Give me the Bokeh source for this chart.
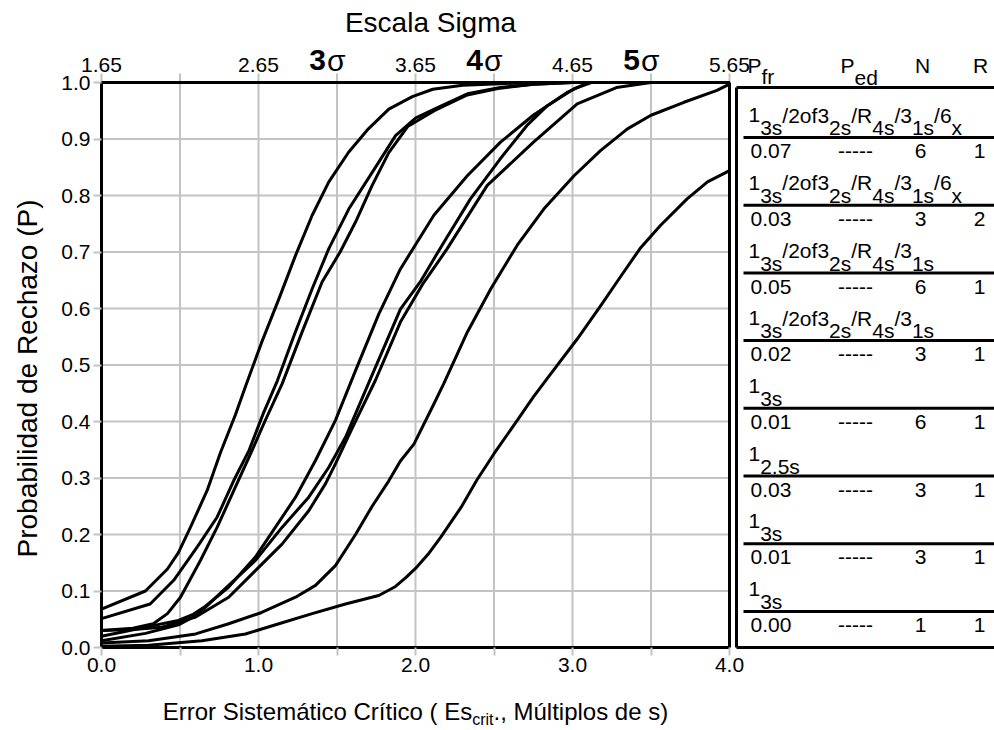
import math
from bokeh.plotting import figure
from bokeh.models import Range1d, FixedTicker, PrintfTickFormatter, LinearAxis
from bokeh.embed import file_html
from bokeh.resources import INLINE
from bokeh.core.properties import value

FONT = "Liberation Sans"

# ---------------- data ----------------
X_MAJOR = [0.0, 1.0, 2.0, 3.0, 4.0]
X_MINOR = [0.5, 1.5, 2.5, 3.5]
Y_TICKS = [0.0, 0.1, 0.2, 0.3, 0.4, 0.5, 0.6, 0.7, 0.8, 0.9, 1.0]
SIGMA_LABELS = ["1.65", "2.65", "3.65", "4.65", "5.65"]
SIGMA_MARKS = ["3", "4", "5"]
SIGMA_MARK_POS = [1.5, 2.5, 3.5]

A_X = [0, 0.28, 0.42, 0.49, 0.567, 0.673, 0.758, 0.853, 0.917, 1.02, 1.13, 1.236, 1.342, 1.448, 1.575, 1.70, 1.83, 1.98, 2.11, 2.3, 2.54, 2.8, 4.0]
A_Y = [0.068, 0.10, 0.139, 0.168, 0.213, 0.278, 0.345, 0.412, 0.462, 0.54, 0.617, 0.694, 0.765, 0.824, 0.877, 0.918, 0.953, 0.975, 0.988, 0.995, 0.998, 1.0, 1.0]
B_X = [0, 0.31, 0.46, 0.61, 0.737, 0.843, 0.94, 1.03, 1.12, 1.23, 1.342, 1.448, 1.575, 1.766, 1.873, 2.0, 2.12, 2.33, 2.54, 2.75, 3.0, 4.0]
B_Y = [0.051, 0.077, 0.119, 0.178, 0.231, 0.296, 0.349, 0.414, 0.472, 0.555, 0.635, 0.706, 0.776, 0.859, 0.906, 0.937, 0.953, 0.98, 0.991, 0.997, 1.0, 1.0]
C_X = [0, 0.2, 0.33, 0.42, 0.503, 0.63, 0.737, 0.843, 0.95, 1.04, 1.151, 1.28, 1.405, 1.52, 1.618, 1.724, 1.83, 1.95, 2.12, 2.33, 2.54, 2.75, 3.0, 4.0]
C_Y = [0.030, 0.034, 0.042, 0.06, 0.089, 0.154, 0.213, 0.278, 0.343, 0.40, 0.467, 0.56, 0.647, 0.70, 0.753, 0.818, 0.876, 0.922, 0.95, 0.978, 0.99, 0.997, 1.0, 1.0]
D_X = [0, 0.28, 0.49, 0.58, 0.662, 0.81, 0.98, 1.108, 1.236, 1.363, 1.49, 1.618, 1.766, 1.904, 2.117, 2.33, 2.54, 2.75, 2.97, 3.1, 4.0]
D_Y = [0.02, 0.036, 0.048, 0.058, 0.073, 0.107, 0.16, 0.213, 0.266, 0.331, 0.402, 0.49, 0.59, 0.670, 0.765, 0.835, 0.894, 0.942, 0.983, 1.0, 1.0]
E_X = [0, 0.28, 0.49, 0.57, 0.65, 0.81, 0.98, 1.151, 1.32, 1.448, 1.554, 1.70, 1.904, 2.03, 2.18, 2.35, 2.54, 2.71, 2.84, 3.01, 3.12, 4.0]
E_Y = [0.012, 0.025, 0.04, 0.052, 0.068, 0.11, 0.154, 0.213, 0.266, 0.319, 0.372, 0.467, 0.599, 0.647, 0.717, 0.794, 0.865, 0.924, 0.959, 0.989, 1.0, 1.0]
F_X = [0, 0.2, 0.386, 0.6, 0.81, 0.98, 1.15, 1.32, 1.427, 1.49, 1.60, 1.745, 1.904, 2.05, 2.20, 2.457, 2.75, 3.03, 3.28, 3.5, 4.0]
F_Y = [0.03, 0.032, 0.036, 0.054, 0.089, 0.136, 0.183, 0.242, 0.29, 0.325, 0.39, 0.473, 0.576, 0.645, 0.705, 0.818, 0.894, 0.962, 0.991, 1.0, 1.0]
G_X = [0, 0.3, 0.6, 0.81, 1.02, 1.236, 1.363, 1.49, 1.618, 1.724, 1.83, 1.904, 1.99, 2.117, 2.18, 2.33, 2.48, 2.648, 2.817, 3.01, 3.18, 3.35, 3.5, 3.71, 3.92, 4.0]
G_Y = [0.008, 0.012, 0.024, 0.042, 0.062, 0.089, 0.11, 0.145, 0.2, 0.25, 0.295, 0.33, 0.36, 0.431, 0.467, 0.558, 0.635, 0.712, 0.776, 0.835, 0.88, 0.918, 0.942, 0.965, 0.986, 0.997]
H_X = [0, 0.3, 0.64, 0.917, 1.13, 1.342, 1.554, 1.766, 1.873, 1.94, 2.0, 2.08, 2.16, 2.29, 2.39, 2.50, 2.648, 2.75, 2.86, 3.03, 3.18, 3.31, 3.43, 3.56, 3.73, 3.86, 4.0]
H_Y = [0.002, 0.004, 0.012, 0.024, 0.042, 0.06, 0.077, 0.092, 0.108, 0.124, 0.14, 0.165, 0.195, 0.248, 0.296, 0.343, 0.402, 0.443, 0.484, 0.546, 0.605, 0.658, 0.706, 0.747, 0.794, 0.824, 0.844]
CURVES = [(A_X, A_Y), (B_X, B_Y), (C_X, C_Y), (D_X, D_Y), (E_X, E_Y), (F_X, F_Y), (G_X, G_Y), (H_X, H_Y)]

MULTI6X = [("1", 0), ("3s", 1), ("/2of3", 0), ("2s", 1), ("/R", 0), ("4s", 1), ("/3", 0), ("1s", 1), ("/6", 0), ("x", 1)]
MULTI = [("1", 0), ("3s", 1), ("/2of3", 0), ("2s", 1), ("/R", 0), ("4s", 1), ("/3", 0), ("1s", 1)]
R13S = [("1", 0), ("3s", 1)]
R125S = [("1", 0), ("2.5s", 1)]
RULES = [MULTI6X, MULTI6X, MULTI, MULTI, R13S, R125S, R13S, R13S]
PFR = ["0.07", "0.03", "0.05", "0.02", "0.01", "0.03", "0.01", "0.00"]
PED = ["-----"] * 8
NVAL = ["6", "3", "6", "3", "6", "3", "3", "1"]
RVAL = ["1", "2", "1", "1", "1", "1", "1", "1"]

Y_LABEL = "Probabilidad de Rechazo (P)"
X_LABEL_PARTS = ["Error Sistemático Crítico ( Es", "crit", "., Múltiplos de s)"]
TOP_TITLE = "Escala Sigma"

# ---------------- geometry (picture pixels) ----------------
W, H = 994, 730
X0, KX = 101.0, 157.0    # pixel of x=0, pixels per unit
Y0, KY = 647.0, 565.0    # pixel of y=0, pixels per unit


def dx(px):
    return (px - X0) / KX


def dy(py):
    return (Y0 - py) / KY


def mid(baseline_px, fs):
    # text anchored at its middle: centre sits ~0.3465 em above the baseline
    return dy(baseline_px - 0.3465 * fs)


AW = {' ': .278, '!': .278, '(': .333, ')': .333, ',': .278, '-': .333, '.': .278, '/': .278,
      'A': .667, 'B': .667, 'C': .722, 'D': .722, 'E': .667, 'F': .611, 'G': .778, 'H': .722, 'I': .278,
      'J': .5, 'K': .667, 'L': .556, 'M': .833, 'N': .722, 'O': .778, 'P': .667, 'Q': .778, 'R': .722,
      'S': .667, 'T': .611, 'U': .722, 'V': .667, 'W': .944, 'X': .667, 'Y': .667, 'Z': .611,
      'a': .556, 'b': .556, 'c': .5, 'd': .556, 'e': .556, 'f': .278, 'g': .556, 'h': .556, 'i': .222,
      'j': .222, 'k': .5, 'l': .222, 'm': .833, 'n': .556, 'o': .556, 'p': .556, 'q': .556, 'r': .333,
      's': .5, 't': .278, 'u': .556, 'v': .5, 'w': .722, 'x': .5, 'y': .5, 'z': .5,
      'á': .556, 'í': .278, 'ú': .556}


def tw(s, size):
    return sum(AW.get(c, .556) for c in s) * size


XMIN, XMAX = dx(0), dx(W)
YMIN, YMAX = dy(H), dy(0)

p = figure(width=W, height=H, x_range=Range1d(XMIN, XMAX), y_range=Range1d(YMIN, YMAX),
           output_backend="svg", toolbar_location=None, min_border=0,
           x_axis_location=None, y_axis_location=None)
p.title.visible = False
p.outline_line_color = None
p.xgrid.visible = False
p.ygrid.visible = False

GRAY = "#c3c3c3"
TFS = 21
TICK_FS = f"{TFS}px"

xa = LinearAxis(ticker=FixedTicker(ticks=X_MAJOR, minor_ticks=X_MINOR),
                formatter=PrintfTickFormatter(format="%.1f"), bounds=(0, 4), fixed_location=0)
ya = LinearAxis(ticker=FixedTicker(ticks=Y_TICKS),
                formatter=PrintfTickFormatter(format="%.1f"), bounds=(0, 1), fixed_location=0)
for ax in (xa, ya):
    ax.axis_line_color = "black"
    ax.axis_line_width = 3
    ax.major_tick_line_color = GRAY
    ax.major_tick_line_width = 2
    ax.major_tick_in = 0
    ax.major_tick_out = 8
    ax.minor_tick_line_color = GRAY
    ax.minor_tick_line_width = 2
    ax.minor_tick_in = 0
    ax.minor_tick_out = 8
    ax.major_label_text_font = FONT
    ax.major_label_text_font_size = TICK_FS
    ax.major_label_text_color = "black"
xa.major_label_standoff = 2
ya.major_label_standoff = 3
p.add_layout(xa, "below")
p.add_layout(ya, "left")

# grid inside the plot area, extended upward as top-scale ticks
gx = sorted(X_MAJOR + X_MINOR)
p.segment(x0=gx, y0=[0] * len(gx), x1=gx, y1=[dy(73)] * len(gx), line_color=GRAY, line_width=2)
gy = Y_TICKS[1:-1]
p.segment(x0=[0] * len(gy), y0=gy, x1=[4] * len(gy), y1=gy, line_color=GRAY, line_width=2)

for cx, cy in CURVES:
    p.line(cx, cy, line_color="black", line_width=3, line_join="round")

# plot area borders
p.segment(x0=[0, 4, 0, 0], y0=[1, 0, 0, 0], x1=[4, 4, 4, 0], y1=[1, 1, 0, 1], line_color="black", line_width=3)

TXT = dict(text_font=value(FONT), text_baseline="middle")

# top sigma scale
p.text(x=X_MAJOR, y=[mid(72, TFS)] * 5, text=SIGMA_LABELS, text_font_size=TICK_FS, text_align="center", **TXT)
p.text(x=[v - 11 / KX for v in SIGMA_MARK_POS], y=[mid(70, 30)] * 3, text=SIGMA_MARKS,
       text_font_size="30px", text_font_style="bold", text_align="right", **TXT)
p.text(x=[v - 10 / KX for v in SIGMA_MARK_POS], y=[mid(70, 30)] * 3, text=["σ"] * 3,
       text_font_size="30px", text_align="left", **TXT)
p.text(x=[dx(430)], y=[mid(32, 28)], text=[TOP_TITLE], text_font_size="28px", text_align="center", **TXT)

# legend panel
PL = dx(736)
p.segment(x0=[PL, PL, PL], y0=[dy(87), dy(87), 0], x1=[PL, XMAX, XMAX], y1=[0, dy(87), 0],
          line_color="black", line_width=3)
ROW0, ROWH = 137, 67.7
rows_y = [dy(ROW0 + i * ROWH) for i in range(len(RULES))]
p.segment(x0=[dx(743)] * len(rows_y), y0=rows_y, x1=[XMAX] * len(rows_y), y1=rows_y,
          line_color="black", line_width=3)

LFS = 21
xs, ys, ts = [], [], []
hdr = [("P", 747, 72), ("fr", 747 + tw("P", LFS), 83), ("P", 840, 72), ("ed", 840 + tw("P", LFS), 84)]
for t, hx, hy in hdr:
    xs.append(dx(hx)); ys.append(mid(hy, LFS)); ts.append(t)
for i, segs in enumerate(RULES):
    line_py = ROW0 + i * ROWH
    cur = 748
    for t, sub in segs:
        xs.append(dx(cur)); ys.append(mid(line_py - (2.5 if sub else 15), LFS)); ts.append(t)
        cur += tw(t, LFS)
    xs.append(dx(750)); ys.append(mid(line_py + 21, LFS)); ts.append(PFR[i])
p.text(x=xs, y=ys, text=ts, text_font_size=f"{LFS}px", text_align="left", **TXT)
cx_, cy_, ct_ = [dx(922), dx(980)], [mid(72, LFS)] * 2, ["N", "R"]
for i in range(len(RULES)):
    line_py = ROW0 + i * ROWH
    cx_ += [dx(855), dx(920), dx(979)]
    cy_ += [mid(line_py + 21, LFS)] * 3
    ct_ += [PED[i], NVAL[i], RVAL[i]]
p.text(x=cx_, y=cy_, text=ct_, text_font_size=f"{LFS}px", text_align="center", **TXT)

# axis titles
p.text(x=[dx(37 - 0.3465 * 28)], y=[dy(378)], text=[Y_LABEL], angle=math.pi / 2,
       text_font_size="28px", text_align="center", **TXT)
MFS, SFS = 24, 16
w0, w1, w2 = tw(X_LABEL_PARTS[0], MFS), tw(X_LABEL_PARTS[1], SFS), tw(X_LABEL_PARTS[2], MFS)
start = 415 - (w0 + w1 + w2) / 2
base = 719
p.text(x=[dx(start), dx(start + w0 + w1)], y=[mid(base, MFS)] * 2, text=[X_LABEL_PARTS[0], X_LABEL_PARTS[2]],
       text_font_size=f"{MFS}px", text_align="left", **TXT)
p.text(x=[dx(start + w0)], y=[mid(base + 6, SFS)], text=[X_LABEL_PARTS[1]],
       text_font_size=f"{SFS}px", text_align="left", **TXT)

open("out.html", "w").write(file_html(p, INLINE))
